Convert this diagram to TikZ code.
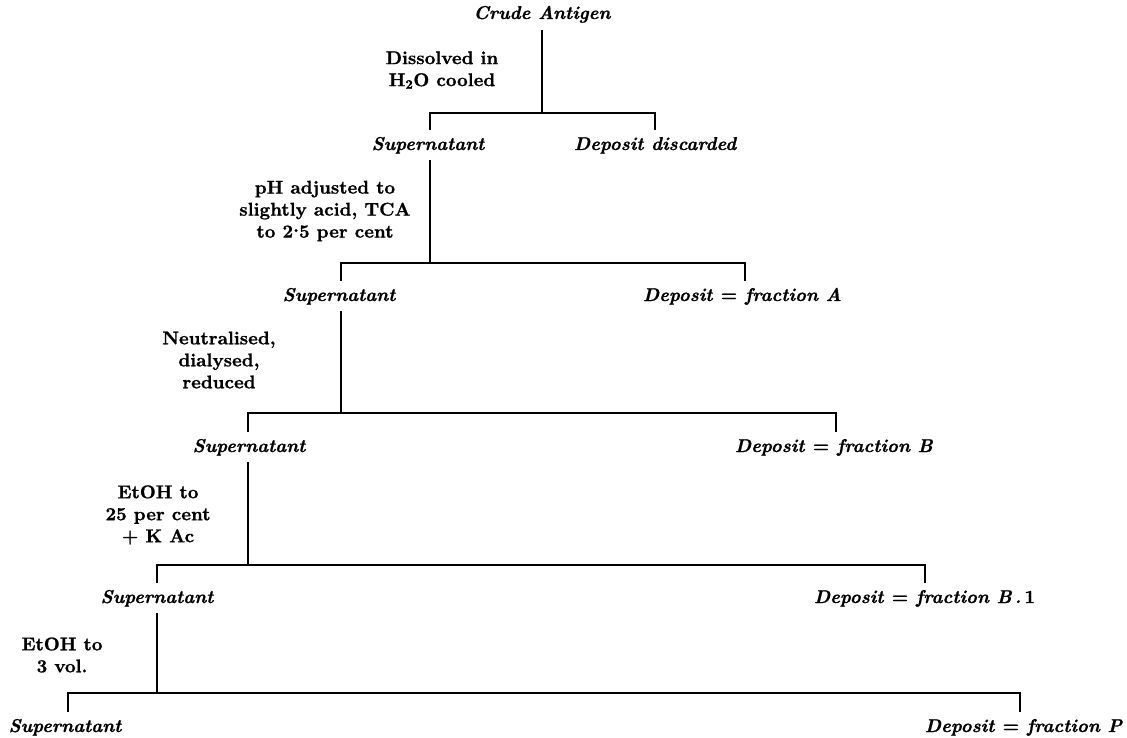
\documentclass[tikz,border=0pt]{standalone}
\usepackage{fontspec}
\setmainfont{lmroman10-regular.otf}[
  BoldFont=lmroman10-bold.otf,
  ItalicFont=lmroman10-italic.otf,
  BoldItalicFont=lmroman10-bolditalic.otf,
  BoldFeatures={FakeBold=1},
  BoldItalicFeatures={FakeBold=1}]
\begin{document}
\begin{tikzpicture}[x=1pt,y=-1pt,
  line width=1.8pt,
  item/.style={font=\fontsize{18.5}{22}\selectfont\bfseries\itshape, inner xsep=0pt, inner ysep=6pt},
  lab/.style={font=\fontsize{18.5}{22}\selectfont\bfseries, align=center, inner sep=0pt}]
\useasboundingbox (0,0) rectangle (1127,738);

% level 0
\node[item, anchor=base] (crude) at (542,19) {Crude Antigen};
\node[lab] (l1) at (442,70) {Dissolved in\\H\textsubscript{2}O cooled};
\coordinate (b1L) at (430,113);
\coordinate (b1R) at (655,113);
\node[item, anchor=base] (s1) at (428,150) {Supernatant};
\node[item, anchor=base west] (d1) at (573,150) {Deposit discarded};
\draw (crude.south) -- (crude.south |- b1L);
\draw (b1L |- s1.north) -- (b1L) -- (b1R) -- (b1R |- d1.north);

% level 2
\node[lab] (l2) at (325,211) {pH adjusted to\\slightly acid, TCA\\to 2\raisebox{0.3em}{.}5 per cent};
\coordinate (b2L) at (341,263);
\coordinate (b2R) at (745,263);
\node[item, anchor=base] (s2) at (339,301) {Supernatant};
\node[item, anchor=base west] (d2) at (642,301) {Deposit \textup{=} fraction A};
\draw (b1L |- s1.south) -- (b1L |- b2L);
\draw (b2L |- s2.north) -- (b2L) -- (b2R) -- (b2R |- d2.north);

% level 3
\node[lab] (l3) at (219,360) {Neutralised,\\dialysed,\\reduced};
\coordinate (b3L) at (248,413);
\coordinate (b3R) at (836,413);
\node[item, anchor=base] (s3) at (249,452) {Supernatant};
\node[item, anchor=base west] (d3) at (734,452) {Deposit \textup{=} fraction B};
\draw (b2L |- s2.south) -- (b2L |- b3L);
\draw (b3L |- s3.north) -- (b3L) -- (b3R) -- (b3R |- d3.north);

% level 4
\node[lab] (l4) at (158,515) {EtOH to\\25 per cent\\\textup{+} K Ac};
\coordinate (b4L) at (157,565);
\coordinate (b4R) at (925,565);
\node[item, anchor=base] (s4) at (157,603) {Supernatant};
\node[item, anchor=base west] (d4) at (813,603) {Deposit \textup{=} fraction B\,.\,\textup{1}};
\draw (b3L |- s3.south) -- (b3L |- b4L);
\draw (b4L |- s4.north) -- (b4L) -- (b4R) -- (b4R |- d4.north);

% level 5
\node[lab] (l5) at (62,655) {EtOH to\\3 vol.};
\coordinate (b5L) at (68,693);
\coordinate (b5R) at (1020,693);
\node[item, anchor=base] (s5) at (65,732) {Supernatant};
\node[item, anchor=base east] (d5) at (1123,732) {Deposit \textup{=} fraction P};
\draw (b4L |- s4.south) -- (b4L |- b5L);
\draw (b5L |- s5.north) -- (b5L) -- (b5R) -- (b5R |- d5.north);
\end{tikzpicture}
\end{document}
